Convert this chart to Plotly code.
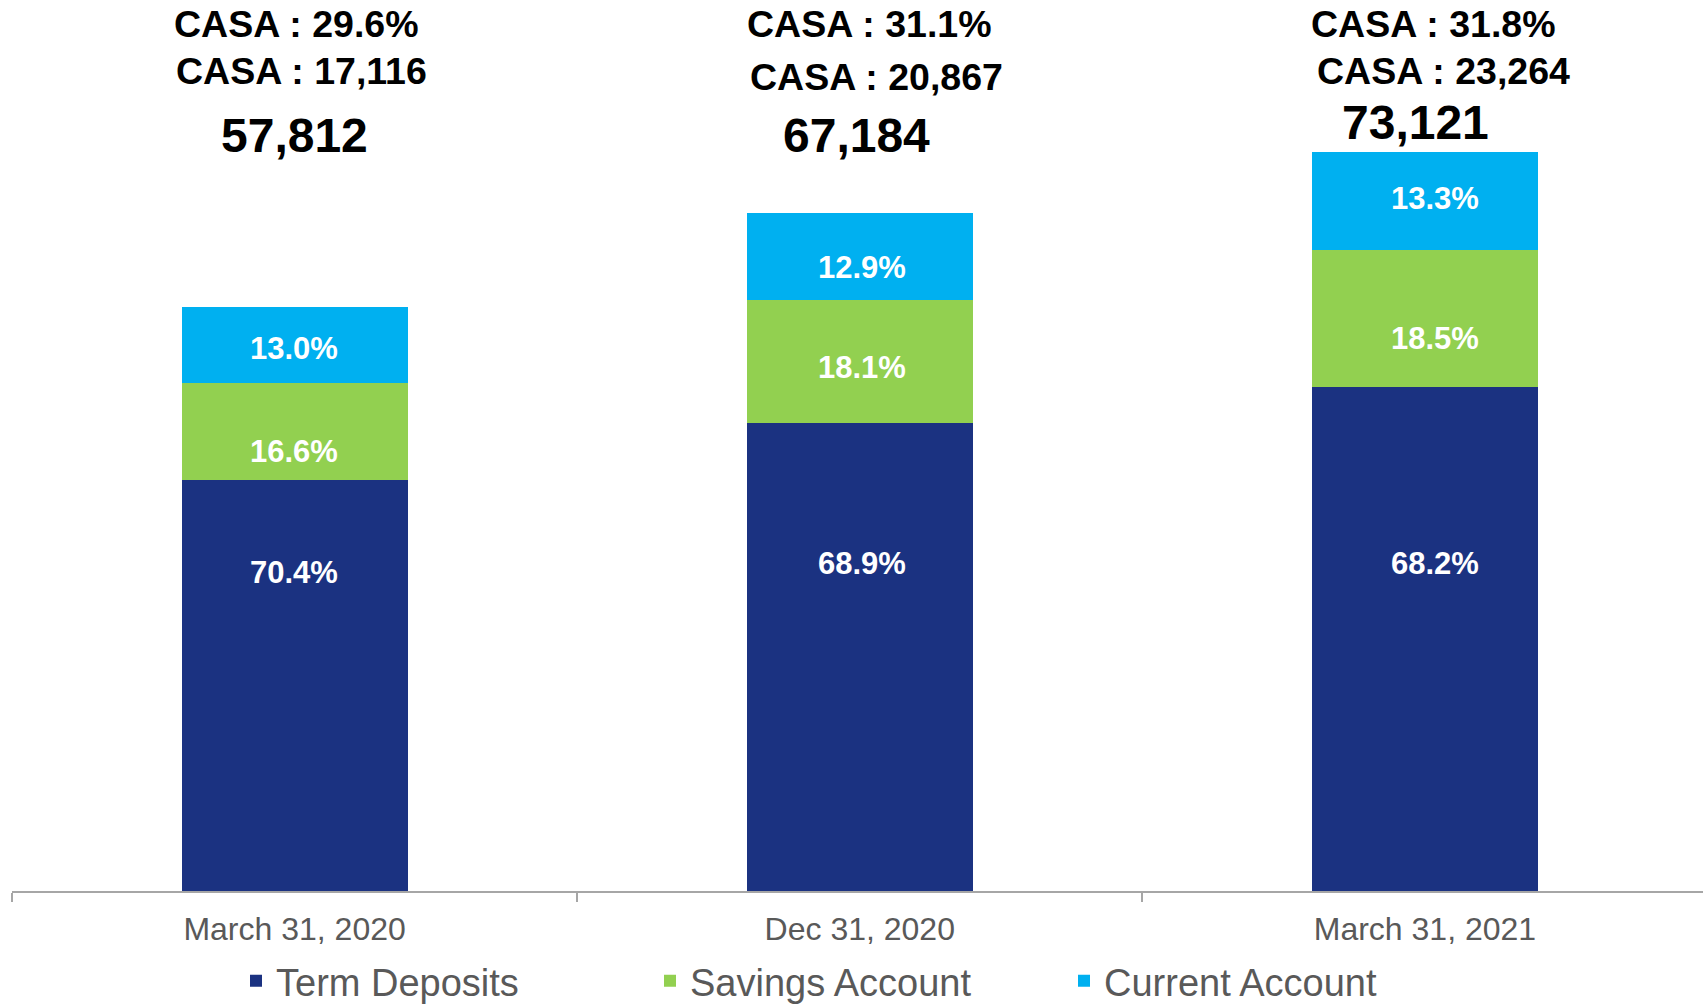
import plotly.graph_objects as go

# ---------------- data ----------------
categories = ["March 31, 2020", "Dec 31, 2020", "March 31, 2021"]
term_deposits = [40700, 46290, 49869]
savings_account = [9597, 12160, 13527]
current_account = [7516, 8667, 9725]
term_pct = ["70.4%", "68.9%", "68.2%"]
savings_pct = ["16.6%", "18.1%", "18.5%"]
current_pct = ["13.0%", "12.9%", "13.3%"]
totals = ["57,812", "67,184", "73,121"]
casa_pct = ["29.6%", "31.1%", "31.8%"]
casa_amt = ["17,116", "20,867", "23,264"]

# ---------------- style ----------------
W, H = 1703, 1007
M_L, M_R, M_T, M_B = 12, 0, 0, 116
PLOT_W = W - M_L - M_R
PLOT_H = H - M_T - M_B
FONT = "Arial, 'Liberation Sans', sans-serif"
C_TERM, C_SAV, C_CUR = "#1B3281", "#92D050", "#00B0F0"
GRAY = "#595959"
Y_MAX = 88157


def py(px):
    """pixel row (from top of figure) -> paper y"""
    return (M_T + PLOT_H - px) / PLOT_H


fig = go.Figure()
for name, vals, col in [("Term Deposits", term_deposits, C_TERM),
                        ("Savings Account", savings_account, C_SAV),
                        ("Current Account", current_account, C_CUR)]:
    fig.add_trace(go.Bar(x=categories, y=vals, name=name, marker_color=col,
                         marker_line_width=0, hoverinfo="skip"))

annotations = []
# header texts above the bars: (rows px per bar, texts, prefix, font size, x offsets px)
hdr_rows = [([24, 24, 24], casa_pct, "CASA : ", 37.5, [2, 10, 9]),
            ([71, 77, 71], casa_amt, "CASA : ", 37.5, [7, 17, 19]),
            ([136, 136, 122], totals, "", 48, [0, -3, -9])]
for rows, texts, prefix, size, shifts in hdr_rows:
    for i, t in enumerate(texts):
        annotations.append(dict(x=categories[i], xref="x", y=py(rows[i]), yref="paper",
                                text=f"<b>{prefix}{t}</b>", showarrow=False,
                                xanchor="center", yanchor="middle", xshift=shifts[i],
                                font=dict(family=FONT, size=size, color="#000000")))

# segment labels (row px per bar, x offset px per bar)
seg_rows = {"cur": [348, 267, 199], "sav": [451, 367, 338], "term": [572, 563, 563]}
seg_x = [-1, 2, 10]
for key, labels in [("cur", current_pct), ("sav", savings_pct), ("term", term_pct)]:
    for i, t in enumerate(labels):
        annotations.append(dict(x=categories[i], xref="x", y=py(seg_rows[key][i]), yref="paper",
                                text=f"<b>{t}</b>", showarrow=False, xanchor="center",
                                yanchor="middle", xshift=seg_x[i],
                                font=dict(family=FONT, size=31, color="#FFFFFF")))

fig.update_layout(
    width=W, height=H,
    barmode="stack", bargap=0.6,
    plot_bgcolor="#FFFFFF", paper_bgcolor="#FFFFFF",
    margin=dict(l=M_L, r=M_R, t=M_T, b=M_B, pad=0, autoexpand=False),
    font=dict(family=FONT, color=GRAY),
    showlegend=True,
    legend=dict(orientation="h", x=(224 / PLOT_W), xanchor="left",
                y=py(981), yanchor="middle", font=dict(family=FONT, size=38, color=GRAY),
                entrywidth=369, entrywidthmode="pixels", traceorder="normal",
                itemclick=False, itemdoubleclick=False, bgcolor="rgba(0,0,0,0)"),
    annotations=annotations,
)
fig.update_xaxes(type="category", range=[-0.5, 2.492], showline=True, linecolor="#A6A6A6",
                 linewidth=2, ticks="outside", tickson="boundaries", ticklen=9,
                 tickcolor="#A6A6A6", tickwidth=2, showgrid=False, zeroline=False,
                 ticklabelstandoff=9, automargin=False,
                 tickfont=dict(family=FONT, size=32, color=GRAY))
fig.update_yaxes(range=[0, Y_MAX], visible=False, showgrid=False, zeroline=False,
                 automargin=False)

fig.write_html("out.html", config={"displayModeBar": False},
               post_script="document.body.style.margin='0px';"
                           "document.body.style.overflow='hidden';")
